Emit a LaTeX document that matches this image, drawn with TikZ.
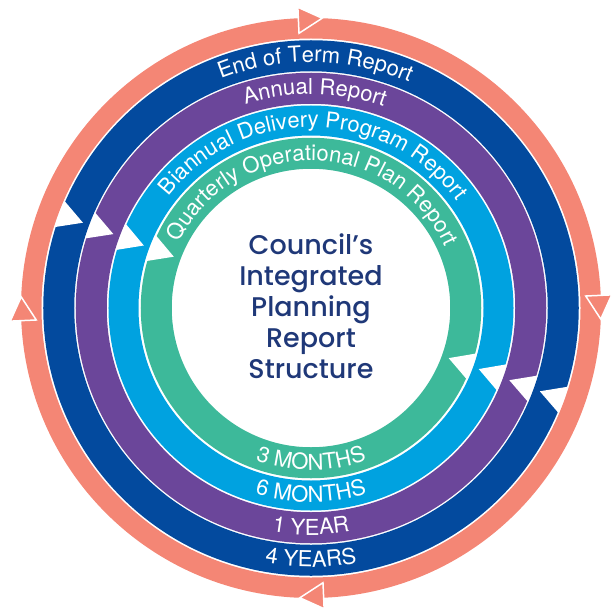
\documentclass[tikz,border=0pt]{standalone}
\usepackage{fontspec}
\setmainfont{TeX Gyre Heros}
\IfFontExistsTF{Poppins Medium}{\newfontfamily\titlefont{Poppins Medium}}{\newfontfamily\titlefont{Poppins}}
\usetikzlibrary{decorations.text}
\usepackage{xcolor}
\definecolor{salmon}{HTML}{F48675}
\definecolor{termblue}{HTML}{034A9E}
\definecolor{annualpurple}{HTML}{6B469A}
\definecolor{biannualblue}{HTML}{00A2E0}
\definecolor{quarterlygreen}{HTML}{3DB99A}
\definecolor{navy}{HTML}{1F3878}
\newcommand{\bandfont}{\fontsize{22}{22}\selectfont}

\begin{document}
\begin{tikzpicture}[x=1pt, y=1pt]
    \tikzstyle{ring} = [line width=31pt]
    \tikzstyle{notch} = [fill=white]
    \tikzstyle{tip} = [fill=salmon, draw=white, line width=1.5pt, line join=miter]
    \tikzstyle{bandlabel} = [decorate, decoration={text along path, text align=center, text color=white}]
    \tikzstyle{title} = [align=center, text=navy, font=\titlefont\fontsize{27}{31}\selectfont]

    \useasboundingbox (-311,-300) rectangle (301,308);

    % Кільця
    \draw[ring, salmon, line width=20.5pt] (0,0) circle (279.75);
    \draw[ring, termblue] (0,0) circle (252.25);
    \draw[ring, annualpurple] (0,0) circle (219.75);
    \draw[ring, biannualblue, line width=30pt] (0,0) circle (187.5);
    \draw[ring, quarterlygreen] (0,0) circle (154.75);

    % Вирізи
    \fill[notch] (156.5:269) -- (159.5:243.5) -- (162.5:269) -- cycle;
    \fill[notch] (-23:269) -- (-20:243.5) -- (-17:269) -- cycle;
    \fill[notch] (156.1:236.5) -- (159.5:211) -- (162.9:236.5) -- cycle;
    \fill[notch] (-23.4:236.5) -- (-20:211) -- (-16.6:236.5) -- cycle;
    \fill[notch] (155.5:204) -- (159.5:178.5) -- (163.5:204) -- cycle;
    \fill[notch] (-24:204) -- (-20:178.5) -- (-16:204) -- cycle;
    \fill[notch] (154.8:172) -- (159.5:146.5) -- (164.2:172) -- cycle;
    \fill[notch] (-24.7:172) -- (-20:146.5) -- (-15.3:172) -- cycle;

    % Стрілки
    \filldraw[tip] (92.5:275) -- (92.5:301) -- (87.8:290) -- cycle;
    \filldraw[tip] (2.5:275) -- (2.5:301) -- (-2.2:290) -- cycle;
    \filldraw[tip] (-87.5:275) -- (-87.5:301) -- (-92.2:290) -- cycle;
    \filldraw[tip] (182.5:275) -- (182.5:301) -- (177.8:290) -- cycle;

    % Написи
    \path[bandlabel, decoration={text={|\bandfont|End of Term Report}}] (179:246) arc[start angle=179, end angle=-1, radius=246];
    \path[bandlabel, decoration={text={|\bandfont|Annual Report}}] (179:214) arc[start angle=179, end angle=-1, radius=214];
    \path[bandlabel, decoration={text={|\bandfont|Biannual Delivery Program Report}}] (179:181) arc[start angle=179, end angle=-1, radius=181];
    \path[bandlabel, decoration={text={|\bandfont|Quarterly Operational Plan Report}}] (179:147.5) arc[start angle=179, end angle=-1, radius=147.5];

    \path[bandlabel, decoration={text={|\bandfont|4 YEARS}}] (181:259) arc[start angle=181, end angle=359, radius=259];
    \path[bandlabel, decoration={text={|\bandfont|1 YEAR}}] (181:227) arc[start angle=181, end angle=359, radius=227];
    \path[bandlabel, decoration={text={|\bandfont|6 MONTHS}}] (181:194) arc[start angle=181, end angle=359, radius=194];
    \path[bandlabel, decoration={text={|\bandfont|3 MONTHS}}] (181:162) arc[start angle=181, end angle=359, radius=162];

    \node[title] (title) at (0,2) {Council’s\\Integrated\\Planning\\Report\\Structure};
\end{tikzpicture}
\end{document}
